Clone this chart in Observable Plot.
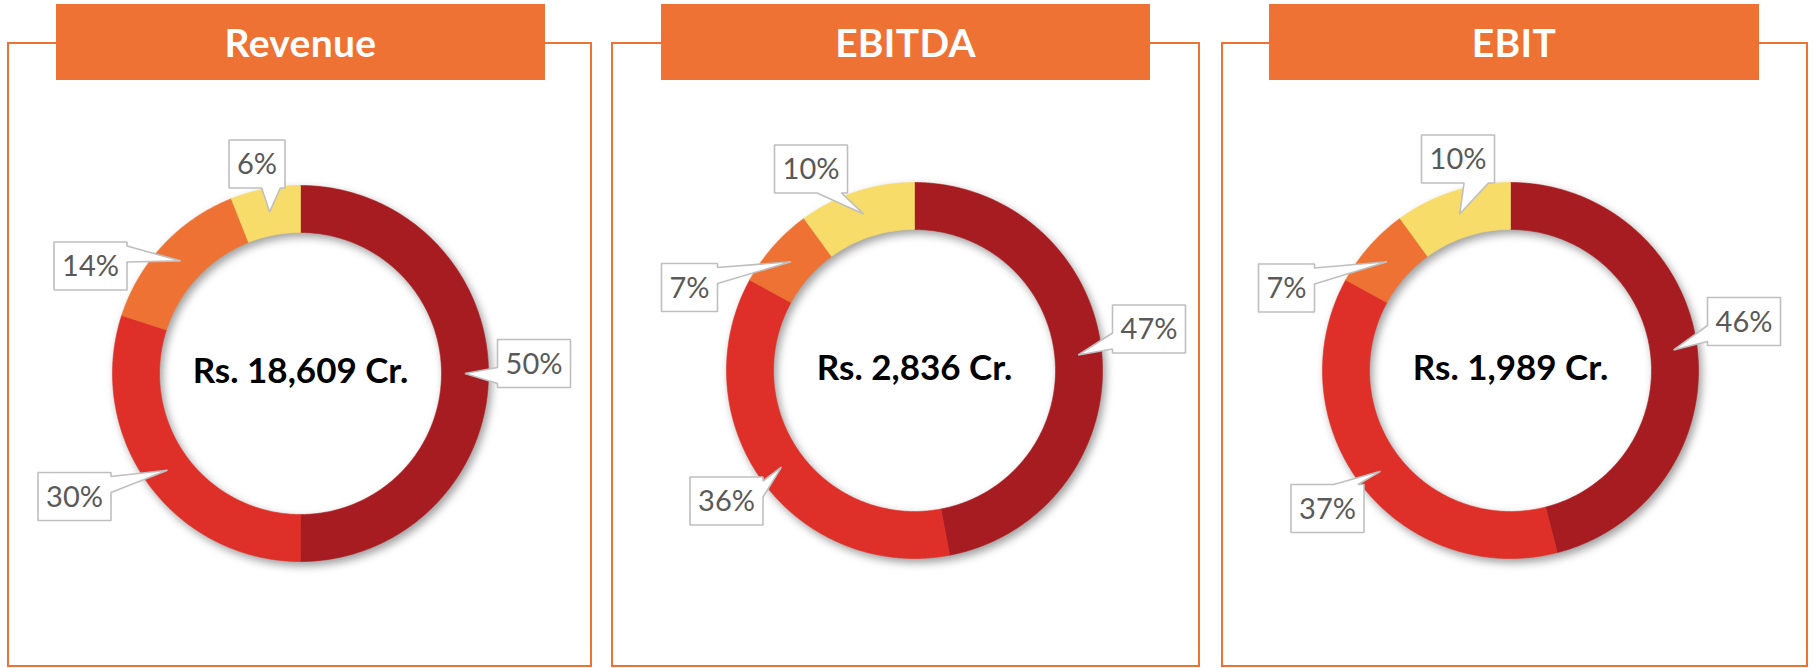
<!DOCTYPE html>
<html><head><meta charset="utf-8">
<script src="https://cdn.jsdelivr.net/npm/d3@7"></script>
<script src="https://cdn.jsdelivr.net/npm/@observablehq/plot@0.6"></script>
<style>
body{margin:0;background:#fff;}
#root{position:relative;width:1816px;height:668px;overflow:hidden;font-family:Lato,"Open Sans",sans-serif;}
.panel{position:absolute;border:2px solid #ED7233;box-sizing:border-box;}
.title{position:absolute;background:#ED7233;color:#fff;font-weight:700;font-size:39px;display:flex;align-items:center;justify-content:center;letter-spacing:0.3px;}
.chart{position:absolute;top:0;}
</style></head><body><div id="root"></div>
<script>
// ---- data ----
const titles = ["Revenue", "EBITDA", "EBIT"];
const totals = ["Rs. 18,609 Cr.", "Rs. 2,836 Cr.", "Rs. 1,989 Cr."];
const segments = ["Segment 1", "Segment 2", "Segment 3", "Segment 4"];
const revenueShares = [50, 30, 14, 6];
const ebitdaShares = [47, 36, 7, 10];
const ebitShares = [46, 37, 7, 10];
const seriesShares = [revenueShares, ebitdaShares, ebitShares];

// ---- styles / layout ----
const segmentColors = ["#A61C20", "#DE2F28", "#ED7234", "#F7DC6A"];
const H = 668, R = 188, hole = 0.75;
const layout = [
  {panel: [7, 42, 592, 667], bar: [56, 4, 545, 80], center: [300, 373]},
  {panel: [611, 42, 1200, 667], bar: [661, 4, 1150, 80], center: [914, 370]},
  {panel: [1221, 42, 1808, 667], bar: [1269, 4, 1759, 80], center: [1510, 370]}
];
// callout box centre offsets (px) relative to donut centre
const calloutOffsets = [
  [[233.5, -10], [-226, 123], [-210, -107.5], [-43.5, -209.5]],
  [[234.5, -41.5], [-188, 130.5], [-225, -83], [-103.5, -201.5]],
  [[233.5, -49], [-183, 138], [-224, -82.5], [-52.5, -211.5]]
];

const root = document.getElementById("root");

function calloutPolygon(bx, by, w, h, tx, ty) {
  const l = bx - w / 2, r = bx + w / 2, t = by - h / 2, b = by + h / 2;
  const dx = (tx - bx) / w, dy = (ty - by) / h;
  const pts = [];
  const xa = tx < bx ? l + w / 12 : l + 7 * w / 12, xb = tx < bx ? l + 5 * w / 12 : l + 11 * w / 12;
  const ya = ty < by ? t + h / 12 : t + 7 * h / 12, yb = ty < by ? t + 5 * h / 12 : t + 11 * h / 12;
  let side;
  if (Math.abs(dx) > Math.abs(dy)) side = dx > 0 ? "right" : "left";
  else side = dy > 0 ? "bottom" : "top";
  pts.push([l, t]);
  if (side === "top") pts.push([xa, t], [tx, ty], [xb, t]);
  pts.push([r, t]);
  if (side === "right") pts.push([r, ya], [tx, ty], [r, yb]);
  pts.push([r, b]);
  if (side === "bottom") pts.push([xb, b], [tx, ty], [xa, b]);
  pts.push([l, b]);
  if (side === "left") pts.push([l, yb], [tx, ty], [l, ya]);
  pts.push([l, t]);
  return pts;
}

layout.forEach((L, k) => {
  const [px0, py0, px1, py1] = L.panel;
  const panel = document.createElement("div");
  panel.className = "panel";
  Object.assign(panel.style, {left: px0 + "px", top: py0 + "px", width: (px1 - px0) + "px", height: (py1 - py0) + "px"});
  root.appendChild(panel);

  const [cx, cy] = L.center;
  const shares = seriesShares[k];
  const total = d3.sum(shares);

  // slices
  const slicePts = [];
  const tips = [];
  let cum = 0;
  shares.forEach((v, i) => {
    const a0 = cum / total * 2 * Math.PI, a1 = (cum + v) / total * 2 * Math.PI;
    cum += v;
    const n = Math.max(2, Math.ceil((a1 - a0) / (Math.PI / 360)));
    const ring = [];
    for (let j = 0; j <= n; j++) { const a = a0 + (a1 - a0) * j / n; ring.push([Math.sin(a), -Math.cos(a)]); }
    for (let j = n; j >= 0; j--) { const a = a0 + (a1 - a0) * j / n; ring.push([hole * Math.sin(a), -hole * Math.cos(a)]); }
    ring.push(ring[0]);
    ring.forEach(([x, y]) => slicePts.push({x, y, id: i, segment: segments[i]}));
    const am = (a0 + a1) / 2, rm = (1 + hole) / 2;
    tips.push([rm * Math.sin(am), -rm * Math.cos(am)]);
  });

  // callouts (computed in px, converted to data units)
  const calloutPts = [];
  const labels = [];
  shares.forEach((v, i) => {
    const txt = v + "%";
    const w = 17 * txt.length + 22, h = 48;
    const [ox, oy] = calloutOffsets[k][i];
    const poly = calloutPolygon(ox, oy, w, h, tips[i][0] * R, tips[i][1] * R);
    poly.forEach(([x, y]) => calloutPts.push({x: x / R, y: y / R, id: i}));
    labels.push({x: ox / R, y: oy / R, text: txt});
  });

  const W = px1 - px0;
  const svg = Plot.plot({
    width: W, height: H, margin: 0,
    style: {background: "transparent", overflow: "visible"},
    x: {domain: [(px0 - cx) / R, (px1 - cx) / R], range: [0, W], axis: null},
    y: {domain: [(0 - cy) / R, (H - cy) / R], range: [0, H], axis: null},
    color: {domain: segments, range: segmentColors},
    marks: [
      Plot.line(slicePts, {x: "x", y: "y", z: "id", fill: "segment", stroke: "segment", strokeWidth: 0.6, curve: "linear"}),
      Plot.line(calloutPts, {x: "x", y: "y", z: "id", fill: "white", stroke: "#BFBFBF", strokeWidth: 1.6, curve: "linear", strokeLinejoin: "miter"}),
      Plot.text(labels, {x: "x", y: "y", text: "text", fontSize: 29, fill: "#595959", fontFamily: "Lato", dy: 1}),
      Plot.text([totals[k]], {x: [0], y: [0], text: d => d, fontSize: 35, fontWeight: "bold", fill: "#000", fontFamily: "Lato", dy: -2})
    ]
  });
  svg.classList.add("chart");
  svg.style.left = px0 + "px";
  const g = svg.querySelector('g[aria-label="line"]');
  if (g) g.style.filter = "drop-shadow(3px 4px 4px rgba(0,0,0,0.38))";
  root.appendChild(svg);

  const [bx0, by0, bx1, by1] = L.bar;
  const bar = document.createElement("div");
  bar.className = "title";
  Object.assign(bar.style, {left: bx0 + "px", top: by0 + "px", width: (bx1 - bx0) + "px", height: (by1 - by0) + "px"});
  bar.textContent = titles[k];
  root.appendChild(bar);
});
</script></body></html>
